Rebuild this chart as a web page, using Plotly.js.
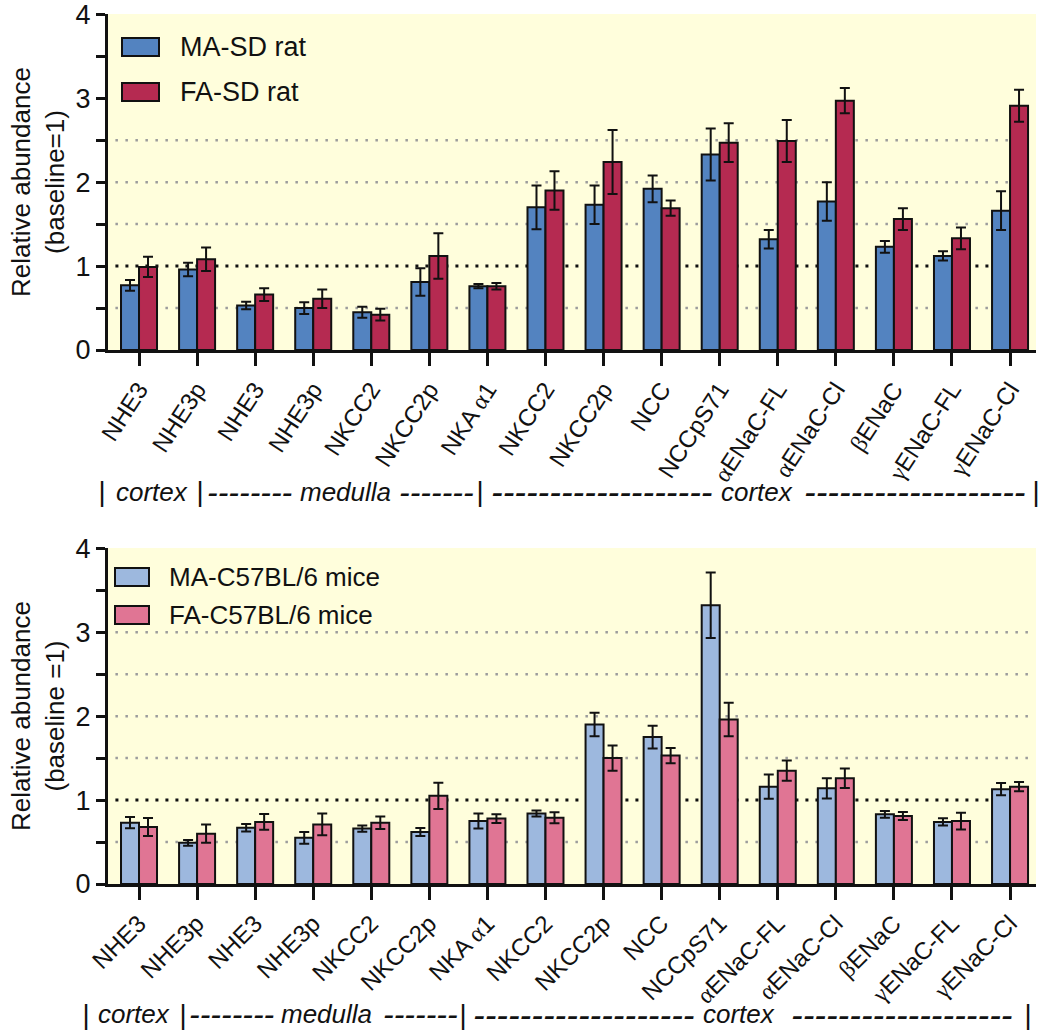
<!DOCTYPE html>
<html><head><meta charset="utf-8">
<script src="https://cdn.plot.ly/plotly-3.0.1.min.js"></script>
<style>html,body{margin:0;padding:0;background:#fff}</style>
</head><body><div id="chart" style="width:1050px;height:1036px"></div>
<script>
// ---------- data ----------
const labels = ["NHE3","NHE3p","NHE3","NHE3p","NKCC2","NKCC2p","NKA α1","NKCC2","NKCC2p","NCC","NCCpS71","αENaC-FL","αENaC-Cl","βENaC","γENaC-FL","γENaC-Cl"];

const ratMA     = [0.77,0.96,0.53,0.50,0.45,0.81,0.76,1.70,1.73,1.92,2.33,1.32,1.77,1.23,1.12,1.66];
const ratMAerr  = [0.065,0.08,0.045,0.07,0.065,0.165,0.025,0.26,0.23,0.16,0.31,0.11,0.23,0.07,0.055,0.23];
const ratFA     = [0.99,1.08,0.66,0.61,0.42,1.12,0.76,1.90,2.24,1.69,2.47,2.49,2.97,1.56,1.33,2.91];
const ratFAerr  = [0.12,0.14,0.075,0.11,0.07,0.27,0.038,0.23,0.38,0.09,0.23,0.25,0.15,0.13,0.13,0.19];

const mouseMA    = [0.73,0.49,0.67,0.55,0.66,0.62,0.75,0.84,1.90,1.75,3.32,1.16,1.14,0.83,0.74,1.13];
const mouseMAerr = [0.067,0.034,0.046,0.07,0.038,0.048,0.09,0.036,0.14,0.135,0.39,0.145,0.12,0.04,0.044,0.074];
const mouseFA    = [0.68,0.60,0.74,0.71,0.73,1.05,0.78,0.79,1.50,1.53,1.96,1.35,1.26,0.81,0.75,1.16];
const mouseFAerr = [0.107,0.11,0.093,0.13,0.075,0.155,0.052,0.066,0.15,0.09,0.20,0.12,0.116,0.048,0.10,0.054];

const seriesNames = ["MA-SD rat","FA-SD rat","MA-C57BL/6 mice","FA-C57BL/6 mice"];
const seriesColors = ["#5383C0","#B52A51","#9DB8DE","#E07594"];

const gridRat = [0.5,1.5,2,2.5];
const gridMouse = [0.5,1.5,2,2.5,3];
const baselineValue = 1;

const yTitles = ["Relative abundance<br>(baseline=1)","Relative abundance<br>(baseline =1)"];
const regionTexts = ["|","cortex","|","--------","medulla","-------","|","-------------------","cortex","-------------------","|"];

// ---------- build ----------
const W = 1050, H = 1036;
const FONT = "Liberation Sans, Arial, sans-serif";
const INK = "#111111";
const idx = labels.map((_, i) => i);
const tickText = labels.map(s => s.replace(/([αβγ])/g, '<span style="font-family:Liberation Serif">$1</span>'));

function barTrace(y, err, color, name, xa, ya) {
  return {
    type: "bar", x: idx, y: y, name: name, xaxis: xa, yaxis: ya, showlegend: false,
    marker: { color: color, line: { color: INK, width: 2 } },
    error_y: { type: "data", array: err, visible: true, color: INK, thickness: 2, width: 5 },
    hoverinfo: "skip"
  };
}

const data = [
  barTrace(ratMA, ratMAerr, seriesColors[0], seriesNames[0], "x", "y"),
  barTrace(ratFA, ratFAerr, seriesColors[1], seriesNames[1], "x", "y"),
  barTrace(mouseMA, mouseMAerr, seriesColors[2], seriesNames[2], "x2", "y2"),
  barTrace(mouseFA, mouseFAerr, seriesColors[3], seriesNames[3], "x2", "y2")
];

function xAxis(anchor, angle) {
  return {
    anchor: anchor, domain: [108 / W, 1036 / W], range: [-0.534, 15.447],
    tickmode: "array", tickvals: idx, ticktext: tickText, tickangle: angle,
    ticks: "outside", ticklen: 13, tickwidth: 3, tickcolor: INK,
    showline: true, linewidth: 3, linecolor: INK, showgrid: false, zeroline: false,
    tickfont: { family: FONT, size: 24, color: INK }, fixedrange: true
  };
}
function yAxis(anchor, dom, title) {
  return {
    anchor: anchor, domain: dom, range: [0, 4.003], tickvals: [0,1,2,3,4],
    ticks: "outside", ticklen: 9, tickwidth: 3, tickcolor: INK,
    minor: { tickvals: [0.5,1.5,2.5,3.5], ticks: "outside", ticklen: 9, tickwidth: 3, tickcolor: INK, showgrid: false },
    showline: true, linewidth: 3, linecolor: INK, showgrid: false, zeroline: false,
    ticklabeloverflow: "allow",
    tickfont: { family: FONT, size: 27, color: INK },
    title: { text: title, font: { family: FONT, size: 26, color: INK }, standoff: 4 },
    fixedrange: true
  };
}

const shapes = [];
function addGrid(vals, xref, yref) {
  vals.forEach(v => shapes.push({
    type: "line", layer: "below", xref: xref + " domain", yref: yref,
    x0: 0.008, x1: 0.995, y0: v, y1: v,
    line: { color: "#9c9c9c", width: 2.5, dash: "2.5px,7.5px" }
  }));
  shapes.push({
    type: "line", layer: "below", xref: xref + " domain", yref: yref,
    x0: 0.008, x1: 0.995, y0: baselineValue, y1: baselineValue,
    line: { color: INK, width: 3, dash: "3px,7px" }
  });
}
addGrid(gridRat, "x", "y");
addGrid(gridMouse, "x2", "y2");

const annotations = [];
// legends (drawn manually to get wide swatches)
const legendSpec = [
  { s: 0, x0: 122, x1: 159, yc: 47, tx: 178, fs: 27 },
  { s: 1, x0: 122, x1: 159, yc: 92, tx: 178, fs: 27 },
  { s: 2, x0: 115, x1: 149, yc: 577, tx: 167, fs: 26 },
  { s: 3, x0: 115, x1: 149, yc: 615, tx: 167, fs: 26 }
];
legendSpec.forEach(L => {
  shapes.push({
    type: "rect", xref: "paper", yref: "paper", layer: "above",
    x0: L.x0 / W, x1: L.x1 / W, y0: 1 - (L.yc + 9) / H, y1: 1 - (L.yc - 9) / H,
    fillcolor: seriesColors[L.s], line: { color: INK, width: 2 }
  });
  annotations.push({
    xref: "paper", yref: "paper", x: L.tx / W, y: 1 - L.yc / H, xanchor: "left", yanchor: "middle",
    text: seriesNames[L.s], showarrow: false, font: { family: FONT, size: L.fs, color: INK }
  });
});

// region rows under each chart (pixel centres -> paper)
const regionCentersTop = [101, 152, 199, 249.5, 345, 436, 479, 601, 757, 914, 1035];
const regionCentersBot = [85, 134, 182, 231.5, 326, 420, 462, 583.5, 739, 901, 1027];
const regionSizes = [28, 26, 28, 32, 26, 32, 28, 35, 26, 35, 28];
function addRegions(centers, yc) {
  regionTexts.forEach((t, i) => annotations.push({
    xref: "paper", yref: "paper", x: centers[i] / W, y: 1 - yc / H,
    xanchor: "center", yanchor: "middle", showarrow: false, text: t,
    font: { family: FONT, size: regionSizes[i], color: INK, style: "italic" }
  }));
}
addRegions(regionCentersTop, 492);
addRegions(regionCentersBot, 1014);

const layout = {
  width: W, height: H, margin: { l: 0, r: 0, t: 0, b: 0 },
  paper_bgcolor: "#ffffff", plot_bgcolor: "#FFFEDC",
  barmode: "group", bargap: 0.38, bargroupgap: 0,
  showlegend: false,
  xaxis: xAxis("y", -57),
  yaxis: yAxis("x", [1 - 350 / H, 1 - 14 / H], yTitles[0]),
  xaxis2: xAxis("y2", -45),
  yaxis2: yAxis("x2", [1 - 884 / H, 1 - 548 / H], yTitles[1]),
  shapes: shapes, annotations: annotations,
  font: { family: FONT, color: INK }
};

Plotly.newPlot("chart", data, layout, { displayModeBar: false, staticPlot: true });
</script></body></html>
